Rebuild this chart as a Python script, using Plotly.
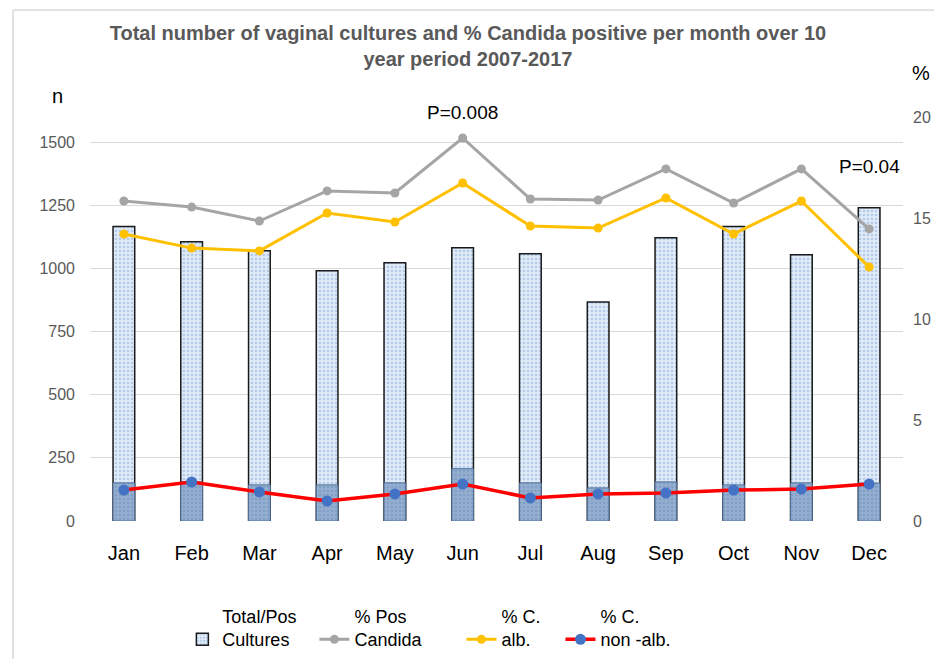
import plotly.graph_objects as go

months = ["Jan", "Feb", "Mar", "Apr", "May", "Jun", "Jul", "Aug", "Sep", "Oct", "Nov", "Dec"]
total_cultures = [1166, 1106, 1070, 991, 1023, 1082, 1058, 867, 1122, 1166, 1054, 1241]
pos_cultures = [151, 155, 143, 143, 151, 207, 151, 131, 155, 143, 151, 150]
pct_pos_candida = [15.84, 15.54, 14.85, 16.34, 16.24, 18.96, 15.94, 15.89, 17.43, 15.74, 17.43, 14.46]
pct_c_alb = [14.21, 13.51, 13.37, 15.25, 14.80, 16.73, 14.60, 14.50, 15.99, 14.21, 15.84, 12.57]
pct_c_non_alb = [1.53, 1.93, 1.44, 0.99, 1.34, 1.83, 1.14, 1.34, 1.39, 1.53, 1.58, 1.83]

FONT = "Liberation Sans"
NB = "\u00a0"

fig = go.Figure()

fig.add_trace(go.Bar(
    x=months, y=total_cultures, name="Total/Pos<br>Cultures" + NB * 4, yaxis="y",
    width=0.32,
    marker=dict(
        color="#E0EBF7",
        line=dict(color="#1a1a1a", width=1.5),
        pattern=dict(shape=".", fgcolor="#86ABDA", bgcolor="#E0EBF7", size=4, solidity=0.35),
    ),
))
fig.add_trace(go.Bar(
    x=months, y=pos_cultures, name="Pos cultures", yaxis="y", showlegend=False,
    width=0.32,
    marker=dict(
        color="#8EA9CC",
        line=dict(color="#4F6F99", width=1),
        pattern=dict(shape=".", fgcolor="#6E8DB8", bgcolor="#94AED0", size=4, solidity=0.35),
    ),
))
fig.add_trace(go.Scatter(
    x=months, y=pct_pos_candida, name="% Pos<br>Candida" + NB * 7, yaxis="y2",
    mode="lines+markers", line=dict(color="#A5A5A5", width=3),
    marker=dict(color="#A5A5A5", size=9),
))
fig.add_trace(go.Scatter(
    x=months, y=pct_c_alb, name="% C.<br>alb." + NB * 5, yaxis="y2",
    mode="lines+markers", line=dict(color="#FFC000", width=3),
    marker=dict(color="#FFC000", size=9),
))
fig.add_trace(go.Scatter(
    x=months, y=pct_c_non_alb, name="% C.<br>non -alb.", yaxis="y2",
    mode="lines+markers", line=dict(color="#FF0000", width=3.5),
    marker=dict(color="#4472C4", size=11),
))

fig.update_layout(
    width=934, height=659,
    margin=dict(l=90, r=31, t=117, b=138),
    paper_bgcolor="white", plot_bgcolor="white",
    barmode="overlay",
    font=dict(family=FONT, color="black"),
    title=dict(
        text="Total number of vaginal cultures and % Candida positive per month over 10<br>year period 2007-2017",
        x=0.501, xanchor="center", y=0.939, yanchor="top",
        font=dict(family=FONT, size=20, color="#595959", weight="bold"),
    ),
    xaxis=dict(
        range=[-0.5, 11.5], automargin=False,
        showgrid=False, showline=False, ticks="",
        tickfont=dict(size=20, color="black"), ticklabelstandoff=18,
    ),
    yaxis=dict(
        range=[0, 1600], tickvals=[0, 250, 500, 750, 1000, 1250, 1500], automargin=False,
        showgrid=True, gridcolor="#D9D9D9", gridwidth=1, zeroline=False,
        showline=False, tickfont=dict(size=16, color="#595959"), ticklabelstandoff=14,
    ),
    yaxis2=dict(
        range=[0, 20], tickvals=[0, 5, 10, 15, 20], overlaying="y", side="right", automargin=False,
        showgrid=False, zeroline=False, showline=False,
        tickfont=dict(size=16, color="#595959"), ticklabelstandoff=9,
    ),
    legend=dict(
        orientation="h", x=0.1136, xanchor="left", yref="container", y=0.093, yanchor="top",
        font=dict(size=18, color="black"), valign="bottom",
        traceorder="normal",
    ),
    annotations=[
        dict(text="n", xref="paper", yref="paper", x=(57 - 90) / 813, y=(521 - 96) / 404,
             xanchor="center", yanchor="middle",
             showarrow=False, font=dict(size=20, color="black")),
        dict(text="%", xref="paper", yref="paper", x=(921 - 90) / 813, y=(521 - 73) / 404,
             xanchor="center", yanchor="middle",
             showarrow=False, font=dict(size=20, color="black")),
        dict(text="P=0.008", xref="x", yref="paper", x="Jun", y=(521 - 112) / 404,
             xanchor="center", yanchor="middle",
             showarrow=False, font=dict(size=19, color="black")),
        dict(text="P=0.04", xref="x", yref="paper", x="Dec", y=(521 - 166) / 404,
             xanchor="center", yanchor="middle",
             showarrow=False, font=dict(size=19, color="black")),
    ],
    shapes=[
        dict(type="line", xref="paper", yref="paper",
             x0=(13 - 90) / 813, x1=(940 - 90) / 813, y0=(521 - 10) / 404, y1=(521 - 10) / 404,
             line=dict(color="#D9D9D9", width=1.5)),
        dict(type="line", xref="paper", yref="paper",
             x0=(13 - 90) / 813, x1=(13 - 90) / 813, y0=(521 - 10) / 404, y1=(521 - 665) / 404,
             line=dict(color="#D9D9D9", width=1.5)),
    ],
)

fig.write_html("out.html", config={"displayModeBar": False},
               post_script="document.body.style.margin='0px';")
